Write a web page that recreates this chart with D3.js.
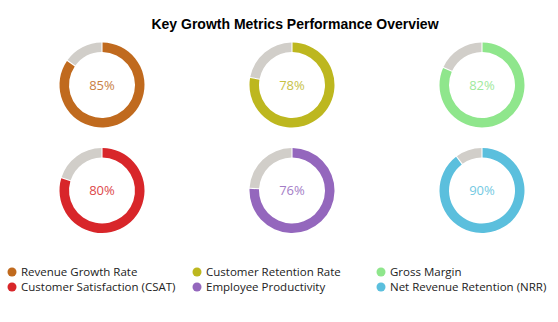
<!DOCTYPE html>
<html>
<head>
<meta charset="utf-8">
<script src="https://cdn.jsdelivr.net/npm/d3@7"></script>
<style>
  body { margin: 0; background: #fff; }
</style>
</head>
<body>
<div id="chart"></div>
<script>
// Metrics and their values (percent)
const metrics = ['Revenue Growth Rate', 'Customer Retention Rate', 'Gross Margin',
  'Customer Satisfaction (CSAT)', 'Employee Productivity', 'Net Revenue Retention (NRR)'];
const values = [85, 78, 82, 80, 76, 90];
const colors = ['#c06a1e', '#bdb71f', '#8fe68c', '#d8262a', '#9467bd', '#5bbfdd'];

// Size of the chart
const width = 558;
const height = 322;
const outerR = 42.5;
const innerR = 33;
const remainderColor = '#d1cec9';

const svg = d3.select('#chart')
  .append('svg')
  .attr('width', width)
  .attr('height', height);

// Title
svg.append('text')
  .attr('x', 295)
  .attr('y', 29)
  .attr('text-anchor', 'middle')
  .attr('font-family', 'Liberation Sans, Arial, sans-serif')
  .attr('font-weight', 'bold')
  .attr('font-size', 14)
  .text('Key Growth Metrics Performance Overview');

// Grid positions of the donuts
const xScale = d3.scalePoint().domain([0, 1, 2]).range([102, 482]);
const yScale = d3.scalePoint().domain([0, 1]).range([85, 190.5]);

const pie = d3.pie().sort(null).padAngle(0.02);
const arc = d3.arc().innerRadius(innerR).outerRadius(outerR);

const donuts = svg.selectAll('g.donut')
  .data(metrics)
  .enter()
  .append('g')
  .attr('class', 'donut')
  .attr('transform', (d, i) => `translate(${xScale(i % 3)},${yScale(Math.floor(i / 3))})`);

donuts.each(function (d, i) {
  const g = d3.select(this);
  g.selectAll('path')
    .data(pie([values[i], 100 - values[i]]))
    .enter()
    .append('path')
    .attr('d', arc)
    .attr('fill', (s, j) => j === 0 ? colors[i] : remainderColor);

  g.append('text')
    .attr('dy', '0.35em')
    .attr('text-anchor', 'middle')
    .attr('font-family', 'Open Sans, sans-serif')
    .attr('font-size', 13)
    .attr('fill', colors[i])
    .attr('opacity', 0.85)
    .text(values[i] + '%');
});

// Legend
const legendX = [12, 197, 381];
const legendY = [272, 287];
const legend = svg.selectAll('g.legend')
  .data(metrics)
  .enter()
  .append('g')
  .attr('class', 'legend')
  .attr('transform', (d, i) => `translate(${legendX[i % 3]},${legendY[Math.floor(i / 3)]})`);

legend.append('circle')
  .attr('r', 4.5)
  .attr('fill', (d, i) => colors[i]);

legend.append('text')
  .attr('x', 9)
  .attr('dy', '0.35em')
  .attr('font-family', 'Open Sans, sans-serif')
  .attr('font-size', 11.5)
  .attr('fill', '#222')
  .text(d => d);
</script>
</body>
</html>
